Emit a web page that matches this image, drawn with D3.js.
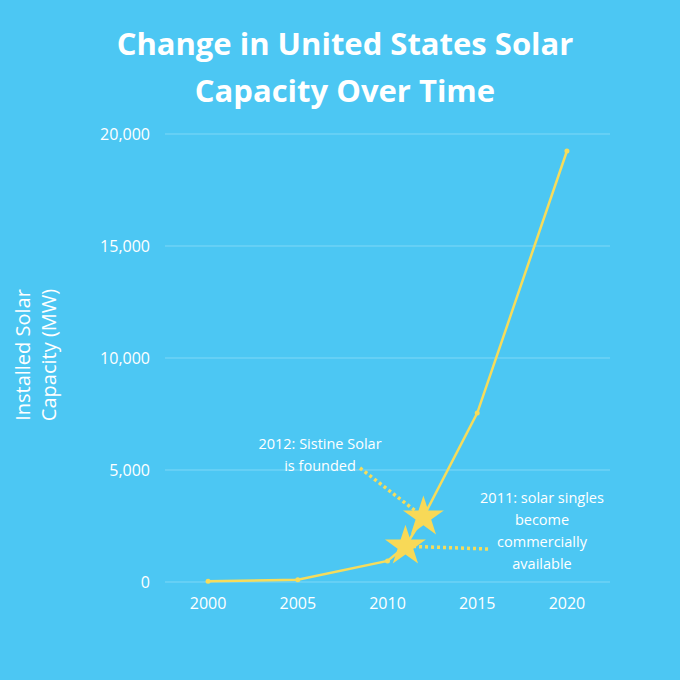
<!DOCTYPE html>
<html>
<head>
<meta charset="utf-8">
<script src="https://cdn.jsdelivr.net/npm/d3@7"></script>
<style>
  body { margin: 0; background: #4cc7f3; }
  text { font-family: "Open Sans", sans-serif; fill: #fff; }
</style>
</head>
<body>
<svg id="chart" width="680" height="680"></svg>
<script>
var years = [2000, 2005, 2010, 2011, 2012, 2015, 2020];
var capacity = [30, 100, 940, 1600, 2900, 7540, 19240];
var xTicks = [2000, 2005, 2010, 2015, 2020];
var yTicks = [0, 5000, 10000, 15000, 20000];
var stars = [
  { year: 2011, value: 1600, lines: ["2011: solar singles", "become", "commercially", "available"], tx: 542, ty: 503, lx: 488, ly: 549 },
  { year: 2012, value: 2900, lines: ["2012: Sistine Solar", "is founded"], tx: 320, ty: 449, lx: 360, ly: 468 }
];

var svg = d3.select("#chart");
svg.append("rect").attr("width", 680).attr("height", 680).attr("fill", "#4cc7f3");

var x = d3.scaleLinear().domain([1997.6, 2022.4]).range([165, 610]);
var y = d3.scaleLinear().domain([0, 20000]).range([582, 134]);

// title
svg.append("text").attr("x", 345).attr("y", 55).attr("text-anchor", "middle")
  .style("font-size", "31px").style("font-weight", "bold").text("Change in United States Solar");
svg.append("text").attr("x", 345).attr("y", 102).attr("text-anchor", "middle")
  .style("font-size", "31px").style("font-weight", "bold").text("Capacity Over Time");

// grid
svg.selectAll(".grid").data(yTicks).enter().append("line")
  .attr("x1", 165).attr("x2", 610)
  .attr("y1", function(d) { return y(d); }).attr("y2", function(d) { return y(d); })
  .attr("stroke", "#7fd8f7").attr("stroke-width", 1);

svg.selectAll(".ytick").data(yTicks).enter().append("text")
  .attr("x", 150).attr("y", function(d) { return y(d) + 6; })
  .attr("text-anchor", "end").style("font-size", "16px")
  .text(function(d) { return d3.format(",")(d); });

svg.selectAll(".xtick").data(xTicks).enter().append("text")
  .attr("x", function(d) { return x(d); }).attr("y", 609)
  .attr("text-anchor", "middle").style("font-size", "16px")
  .text(function(d) { return d; });

// y label
var yl = svg.append("text").attr("transform", "translate(30,355) rotate(-90)")
  .attr("text-anchor", "middle").style("font-size", "20px");
yl.append("tspan").attr("x", 0).attr("dy", 0).text("Installed Solar");
yl.append("tspan").attr("x", 0).attr("dy", 26).text("Capacity (MW)");

// line
var pts = years.map(function(d, i) { return [d, capacity[i]]; });
svg.append("path").datum(pts)
  .attr("d", d3.line().x(function(d) { return x(d[0]); }).y(function(d) { return y(d[1]); }))
  .attr("fill", "none").attr("stroke", "#f6dc5b").attr("stroke-width", 2.5);

svg.selectAll(".dot").data(pts.filter(function(d) { return d[0] != 2011 && d[0] != 2012; }))
  .enter().append("circle")
  .attr("cx", function(d) { return x(d[0]); }).attr("cy", function(d) { return y(d[1]); })
  .attr("r", 2.5).attr("fill", "#f6dc5b");

// annotations
var star = d3.symbol().type(d3.symbolStar).size(520);
stars.forEach(function(s) {
  svg.append("line").attr("x1", s.lx).attr("y1", s.ly)
    .attr("x2", x(s.year)).attr("y2", y(s.value))
    .attr("stroke", "#f6dc5b").attr("stroke-width", 3.5).attr("stroke-dasharray", "3,3");
  svg.append("path").attr("d", star)
    .attr("transform", "translate(" + x(s.year) + "," + y(s.value) + ")")
    .attr("fill", "#f8d957");
  var t = svg.append("text").attr("text-anchor", "middle").style("font-size", "14.5px");
  s.lines.forEach(function(l, i) {
    t.append("tspan").attr("x", s.tx).attr("y", s.ty + i * 22).text(l);
  });
});
</script>
</body>
</html>
